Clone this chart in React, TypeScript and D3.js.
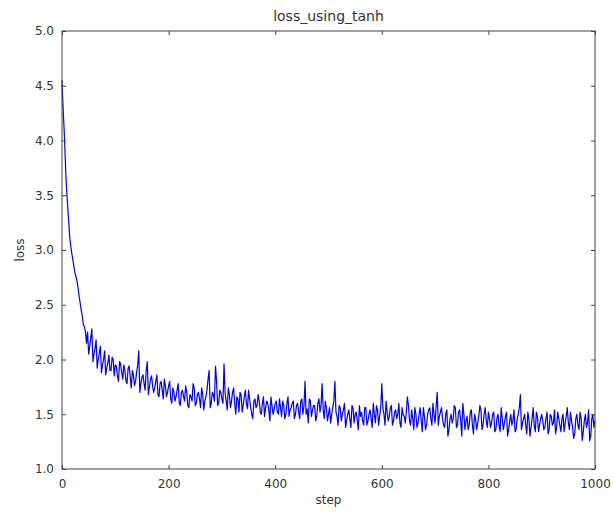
import React, { useEffect, useRef } from "react";
import * as d3 from "d3";

// loss: one value at steps 0, 4, 8 ... 1000
const lossValues = [
  4.55, 4.1, 3.6, 3.3, 3.05, 2.92, 2.8, 2.72, 2.58, 2.45, 2.32, 2.25,
  2.25, 2.12, 2.28, 2.05, 2.18, 2.0, 2.12, 1.95, 2.08, 1.92, 2.04, 1.9, 2.0, 1.95,
  1.85, 1.98, 1.88, 1.95, 1.8, 1.92, 1.84, 1.9, 1.76, 1.88, 2.08, 1.78, 1.86, 1.72, 1.98, 1.75, 1.85, 1.7, 1.8, 1.68, 1.78, 1.72, 1.82, 1.66, 1.76,
  1.64, 1.74, 1.62, 1.72, 1.6, 1.7, 1.66, 1.76, 1.58, 1.68, 1.62, 1.74, 1.6, 1.7, 1.56, 1.68, 1.62, 1.72, 1.9, 1.6, 1.68, 1.94, 1.58, 1.72, 1.64,
  1.96, 1.62, 1.74, 1.56, 1.7, 1.6, 1.66, 1.52, 1.68, 1.58, 1.72, 1.55, 1.64, 1.5, 1.62, 1.56, 1.68, 1.52, 1.6, 1.48, 1.62, 1.54, 1.66, 1.5, 1.6,
  1.52, 1.64, 1.48, 1.58, 1.5, 1.66, 1.54, 1.6, 1.46, 1.58, 1.52, 1.62, 1.5, 1.8, 1.55, 1.64, 1.48, 1.58, 1.44, 1.6, 1.52, 1.78, 1.46, 1.56, 1.5,
  1.42, 1.56, 1.8, 1.48, 1.58, 1.44, 1.54, 1.38, 1.5, 1.46, 1.58, 1.42, 1.52, 1.36, 1.48, 1.44, 1.56, 1.4, 1.5, 1.46, 1.6, 1.42, 1.54, 1.48, 1.78,
  1.5, 1.62, 1.44, 1.56, 1.4, 1.52, 1.46, 1.6, 1.38, 1.5, 1.42, 1.66, 1.44, 1.54, 1.36, 1.5, 1.42, 1.56, 1.34, 1.48, 1.4, 1.54, 1.46, 1.6, 1.42,
  1.7, 1.48, 1.56, 1.4, 1.5, 1.3, 1.46, 1.42, 1.58, 1.38, 1.52, 1.44, 1.6, 1.36, 1.48, 1.4, 1.54, 1.32, 1.46, 1.42, 1.58, 1.36, 1.5, 1.44, 1.52,
  1.38, 1.5, 1.34, 1.46, 1.4, 1.56, 1.36, 1.48, 1.3, 1.44, 1.4, 1.54, 1.36, 1.5, 1.68, 1.42, 1.5, 1.32, 1.46, 1.38, 1.56, 1.34, 1.48, 1.4, 1.5,
  1.36, 1.46, 1.32, 1.5, 1.4, 1.54, 1.38, 1.46, 1.34, 1.5, 1.42, 1.56, 1.36, 1.44, 1.28, 1.46, 1.4, 1.52, 1.26, 1.44, 1.38, 1.54, 1.3, 1.5, 1.44,
];
// loss at the steps in between: 2, 6, 10 ... 998
const lossValuesMid = [
  4.3, 3.85, 3.45, 3.15, 2.98, 2.86, 2.76, 2.66, 2.52, 2.4, 2.3, 2.15,
  2.05, 2.2, 1.98, 2.1, 1.92, 2.06, 1.88, 2.0, 1.86, 1.97, 1.9, 2.02, 1.85,
  1.94, 1.8, 1.96, 1.82, 1.9, 1.78, 1.94, 1.74, 1.86, 1.8, 1.95, 1.7, 1.84, 1.78, 1.9, 1.68, 1.82, 1.76, 1.74, 1.86, 1.66, 1.8, 1.64, 1.76, 1.7,
  1.8, 1.6, 1.7, 1.66, 1.78, 1.58, 1.72, 1.62, 1.7, 1.56, 1.66, 1.78, 1.58, 1.68, 1.64, 1.74, 1.54, 1.66, 1.82, 1.56, 1.7, 1.62, 1.8, 1.6, 1.7,
  1.6, 1.7, 1.54, 1.68, 1.62, 1.74, 1.5, 1.64, 1.7, 1.52, 1.66, 1.6, 1.72, 1.56, 1.46, 1.64, 1.58, 1.62, 1.5, 1.66, 1.56, 1.6, 1.44, 1.58, 1.54,
  1.62, 1.5, 1.56, 1.62, 1.46, 1.6, 1.48, 1.56, 1.62, 1.5, 1.6, 1.46, 1.64, 1.58, 1.5, 1.42, 1.62, 1.54, 1.58, 1.48, 1.64, 1.58, 1.54, 1.62, 1.44,
  1.56, 1.5, 1.62, 1.52, 1.4, 1.56, 1.5, 1.6, 1.44, 1.54, 1.38, 1.56, 1.5, 1.44, 1.58, 1.52, 1.4, 1.56, 1.44, 1.54, 1.38, 1.5, 1.58, 1.4, 1.56,
  1.56, 1.4, 1.52, 1.48, 1.58, 1.44, 1.54, 1.5, 1.42, 1.56, 1.48, 1.52, 1.58, 1.4, 1.46, 1.56, 1.38, 1.5, 1.44, 1.56, 1.36, 1.5, 1.56, 1.4, 1.5,
  1.58, 1.4, 1.52, 1.46, 1.38, 1.54, 1.36, 1.5, 1.46, 1.56, 1.4, 1.54, 1.3, 1.5, 1.44, 1.36, 1.52, 1.4, 1.5, 1.36, 1.48, 1.54, 1.4, 1.56, 1.38,
  1.46, 1.42, 1.52, 1.36, 1.5, 1.34, 1.46, 1.42, 1.52, 1.36, 1.5, 1.44, 1.34, 1.46, 1.56, 1.36, 1.46, 1.4, 1.52, 1.3, 1.46, 1.4, 1.52, 1.34, 1.46,
  1.44, 1.38, 1.52, 1.36, 1.48, 1.42, 1.32, 1.52, 1.4, 1.46, 1.34, 1.48, 1.42, 1.52, 1.38, 1.32, 1.5, 1.36, 1.46, 1.34, 1.5, 1.42, 1.26, 1.46, 1.38,
];
const stepInterval = 2;
const xTicks = [0, 200, 400, 600, 800, 1000];
const yTicks = [1.0, 1.5, 2.0, 2.5, 3.0, 3.5, 4.0, 4.5, 5.0];

const App = () => {
  const chartRef = useRef<SVGSVGElement>(null);

  useEffect(() => {
    const width = 613;
    const height = 514;
    const margin = { top: 31, right: 18, bottom: 45, left: 62 };
    const w = width - margin.left - margin.right;
    const h = height - margin.top - margin.bottom;
    const font = "DejaVu Sans, sans-serif";
    const textColor = "#333";
    const frameColor = "#444";

    // put the two readings back in step order
    const series = lossValues.flatMap((v, i) =>
      i < lossValuesMid.length ? [v, lossValuesMid[i]] : [v]
    );

    const svg = d3.select(chartRef.current);
    svg.selectAll("*").remove();
    svg.attr("width", width).attr("height", height);

    const x = d3.scaleLinear().domain([0, 1000]).range([0, w]);
    const y = d3.scaleLinear().domain([1.0, 5.0]).range([h, 0]);

    const g = svg
      .append("g")
      .attr("transform", `translate(${margin.left}, ${margin.top})`);

    // the loss curve
    const line = d3
      .line<number>()
      .x((d, i) => x(i * stepInterval))
      .y((d) => y(d));

    g.append("path")
      .datum(series)
      .attr("fill", "none")
      .attr("stroke", "#0000ee")
      .attr("stroke-width", 1.2)
      .attr("stroke-linejoin", "round")
      .attr("d", line);

    // classic matplotlib: ticks pointing inward on all four sides
    const tickLen = 4;
    const styleAxis = (sel) => {
      sel.select(".domain").remove();
      sel.selectAll("line").attr("stroke", frameColor);
      sel
        .selectAll("text")
        .attr("fill", textColor)
        .attr("font-family", font)
        .attr("font-size", 12);
    };

    g.append("g")
      .attr("transform", `translate(0, ${h})`)
      .call(
        d3
          .axisBottom(x)
          .tickValues(xTicks)
          .tickSize(-tickLen)
          .tickPadding(10)
          .tickFormat(d3.format("d"))
      )
      .call(styleAxis);

    g.append("g")
      .call(d3.axisTop(x).tickValues(xTicks).tickSize(-tickLen).tickFormat(() => ""))
      .call(styleAxis);

    g.append("g")
      .call(
        d3
          .axisLeft(y)
          .tickValues(yTicks)
          .tickSize(-tickLen)
          .tickPadding(8)
          .tickFormat(d3.format(".1f"))
      )
      .call(styleAxis);

    g.append("g")
      .attr("transform", `translate(${w}, 0)`)
      .call(d3.axisRight(y).tickValues(yTicks).tickSize(-tickLen).tickFormat(() => ""))
      .call(styleAxis);

    // frame
    g.append("rect")
      .attr("width", w)
      .attr("height", h)
      .attr("fill", "none")
      .attr("stroke", frameColor)
      .attr("stroke-width", 1);

    // title and labels
    svg
      .append("text")
      .attr("x", margin.left + w / 2)
      .attr("y", 21)
      .attr("text-anchor", "middle")
      .attr("font-family", font)
      .attr("font-size", 14)
      .attr("fill", textColor)
      .text("loss_using_tanh");

    svg
      .append("text")
      .attr("x", margin.left + w / 2)
      .attr("y", 504)
      .attr("text-anchor", "middle")
      .attr("font-family", font)
      .attr("font-size", 12)
      .attr("fill", textColor)
      .text("step");

    svg
      .append("text")
      .attr("transform", `translate(24, ${margin.top + h / 2}) rotate(-90)`)
      .attr("text-anchor", "middle")
      .attr("font-family", font)
      .attr("font-size", 12)
      .attr("fill", textColor)
      .text("loss");
  });

  return (
    <div style={{ position: "absolute", left: 0, top: 0 }}>
      <svg ref={chartRef}></svg>
    </div>
  );
};

export default App;
